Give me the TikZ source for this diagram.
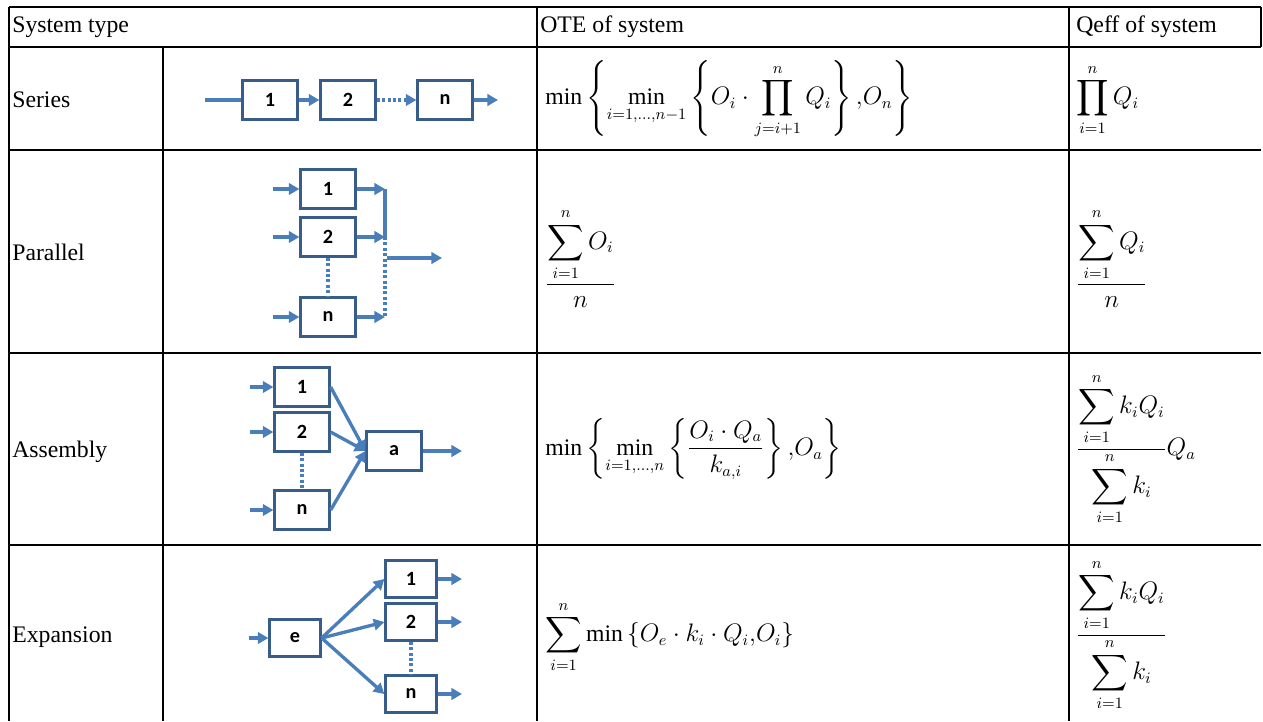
\documentclass[tikz,border=0pt]{standalone}
\usepackage{amsmath}
\usepackage{fontspec}
\setmainfont{Liberation Serif}
\newfontfamily\boxfont{Carlito}
\usetikzlibrary{arrows.meta}

\definecolor{flowblue}{RGB}{74,126,187}
\definecolor{boxblue}{RGB}{56,93,138}

\begin{document}
\begin{tikzpicture}[
  x=0.02cm, y=-0.02cm,
  grid/.style={line width=1.4pt},
  txt/.style={anchor=west,inner sep=0pt,font=\fontsize{13.5}{16}\selectfont},
  unit/.style={draw=boxblue,line width=1.3pt,minimum width=1.1cm,minimum height=0.78cm,inner sep=0pt,font=\boxfont\bfseries\fontsize{11.5}{12}\selectfont},
  flow/.style={draw=flowblue,line width=1.9pt,-{Triangle[length=6pt,width=6.5pt]}},
  link/.style={draw=flowblue,line width=1.9pt},
  gap/.style={draw=flowblue,line width=1.9pt,dash pattern=on 1.7pt off 1.4pt}
]
  \useasboundingbox (0,0) rectangle (1263,721);
  % table grid
  \draw[grid] (9,7) -- (1261,7);
  \draw[grid] (9,47) -- (1261,47);
  \draw[grid] (9,150) -- (1261,150);
  \draw[grid] (9,353) -- (1261,353);
  \draw[grid] (9,545) -- (1261,545);
  \draw[grid] (9,7) -- (9,721);
  \draw[grid] (163,47) -- (163,721);
  \draw[grid] (537,7) -- (537,721);
  \draw[grid] (1069,7) -- (1069,721);
  \draw[grid] (1261,7) -- (1261,47);

  % header
  \node[txt] (hType) at (12,27) {System type};
  \node[txt] (hOte) at (540,27) {OTE of system};
  \node[txt] (hQeff) at (1076,27) {Qeff of system};

  % row labels
  \node[txt] (lSeries) at (12,100) {Series};
  \node[txt] (lParallel) at (12,252) {Parallel};
  \node[txt] (lAssembly) at (12,452) {Assembly};
  \node[txt] (lExpansion) at (12,637) {Expansion};

  % series
  \coordinate (s0) at (205,100);
  \node[unit] (s1) at (270,100) {1};
  \node[unit] (s2) at (348,100) {2};
  \node[unit] (sn) at (445,100) {n};
  \coordinate (sout) at (498,100);
  \draw[link] (s0) -- (s1.west);
  \draw[flow] (s1) -- (s2);
  \draw[flow,dash pattern=on 1.7pt off 1.4pt] (s2) -- (sn);
  \draw[flow] (sn) -- (sout);

  % parallel
  \node[unit] (p1) at (328,189) {1};
  \node[unit] (p2) at (328,237) {2};
  \node[unit] (pn) at (328,317) {n};
  \coordinate (pin1) at (273,189);
  \coordinate (pin2) at (273,237);
  \coordinate (pinn) at (273,317);
  \coordinate (pj1) at (385,189);
  \coordinate (pj2) at (385,237);
  \coordinate (pjn) at (385,317);
  \coordinate (pm) at (387,258);
  \coordinate (pout) at (442,258);
  \draw[flow] (pin1) -- (p1.west);
  \draw[flow] (pin2) -- (p2.west);
  \draw[flow] (pinn) -- (pn.west);
  \draw[flow] (p1.east) -- (pj1);
  \draw[flow] (p2.east) -- (pj2);
  \draw[flow] (pn.east) -- (pjn);
  \draw[link] (pj1) -- (pj2);
  \draw[gap] (pj2) -- (pjn);
  \draw[gap] (p2.south) -- (pn.north);
  \draw[flow] (pm) -- (pout);

  % assembly
  \node[unit] (a1) at (302,387) {1};
  \node[unit] (a2) at (302,432) {2};
  \node[unit] (an) at (302,510) {n};
  \node[unit] (aa) at (394,451) {a};
  \coordinate (ain1) at (250,387);
  \coordinate (ain2) at (250,432);
  \coordinate (ainn) at (250,510);
  \coordinate (aout) at (462,451);
  \draw[flow] (ain1) -- (a1.west);
  \draw[flow] (ain2) -- (a2.west);
  \draw[flow] (ainn) -- (an.west);
  \draw[flow] (a1.east) -- (aa.west);
  \draw[flow] (a2.east) -- (aa.west);
  \draw[flow] (an.east) -- (aa.west);
  \draw[gap] (a2.south) -- (an.north);
  \draw[flow] (aa) -- (aout);

  % expansion
  \node[unit,minimum width=1.02cm,minimum height=0.74cm] (ee) at (295,638) {e};
  \node[unit,minimum width=1.02cm,minimum height=0.74cm] (e1) at (411,579) {1};
  \node[unit,minimum width=1.02cm,minimum height=0.74cm] (e2) at (411,622) {2};
  \node[unit,minimum width=1.02cm,minimum height=0.74cm] (en) at (411,694) {n};
  \coordinate (ein) at (249,638);
  \coordinate (eo1) at (462,579);
  \coordinate (eo2) at (462,622);
  \coordinate (eon) at (462,694);
  \draw[flow] (ein) -- (ee.west);
  \draw[flow] (ee.east) -- (e1.west);
  \draw[flow] (ee.east) -- (e2.west);
  \draw[flow] (ee.east) -- (en.west);
  \draw[gap] (e2.south) -- (en.north);
  \draw[flow] (e1) -- (eo1);
  \draw[flow] (e2) -- (eo2);
  \draw[flow] (en) -- (eon);

  % OTE of system
  \node[txt] (oSeries) at (545,100) {$\displaystyle \min\left\{\min_{i=1,\dots,n-1}\left\{O_i\cdot\prod_{j=i+1}^{n}Q_i\right\}{,}O_n\right\}$};
  \node[txt] (oParallel) at (545,258) {$\displaystyle \frac{\displaystyle\sum_{i=1}^{n}O_i}{n}$};
  \node[txt] (oAssembly) at (545,449) {$\displaystyle \min\left\{\min_{i=1,\dots,n}\left\{\frac{O_i\cdot Q_a}{k_{a,i}}\right\}{,}O_a\right\}$};
  \node[txt] (oExpansion) at (545,637) {$\displaystyle \sum_{i=1}^{n}\min\left\{O_e\cdot k_i\cdot Q_i{,}O_i\right\}$};

  % Qeff of system
  \node[txt] (qSeries) at (1076,100) {$\displaystyle \prod_{i=1}^{n}Q_i$};
  \node[txt] (qParallel) at (1076,258) {$\displaystyle \frac{\displaystyle\sum_{i=1}^{n}Q_i}{n}$};
  \node[txt] (qAssembly) at (1076,449) {$\displaystyle \frac{\displaystyle\sum_{i=1}^{n}k_iQ_i}{\displaystyle\sum_{i=1}^{n}k_i}Q_a$};
  \node[txt] (qExpansion) at (1076,635) {$\displaystyle \frac{\displaystyle\sum_{i=1}^{n}k_iQ_i}{\displaystyle\sum_{i=1}^{n}k_i}$};
\end{tikzpicture}
\end{document}
